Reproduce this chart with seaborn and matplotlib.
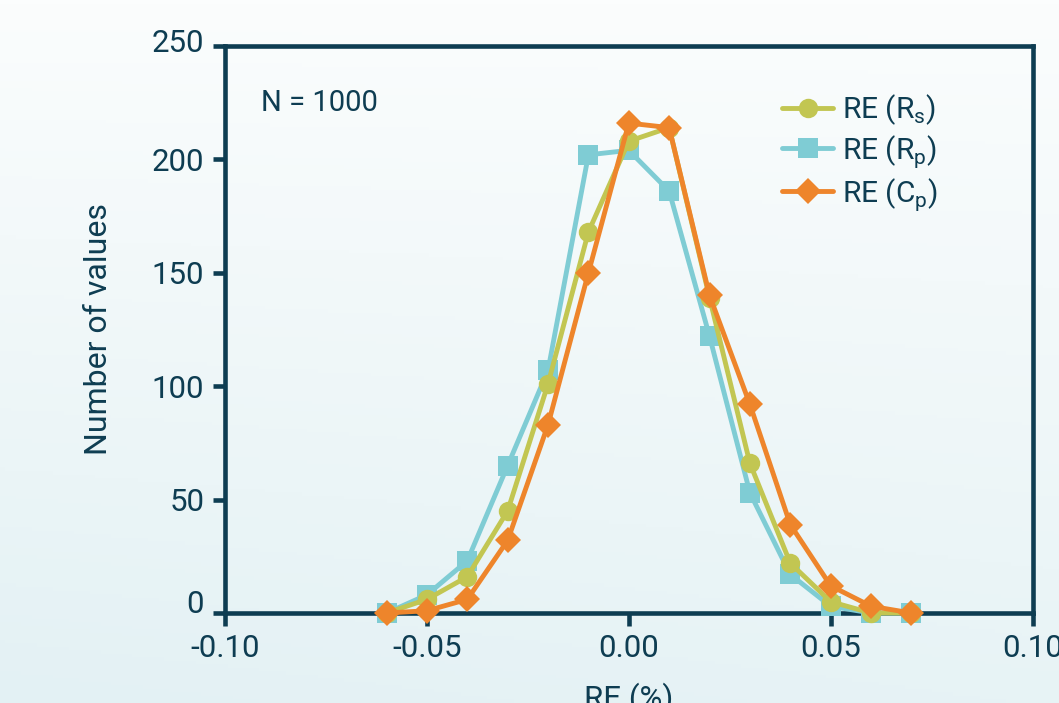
import numpy as np
import pandas as pd
import matplotlib
matplotlib.use("Agg")
import matplotlib.pyplot as plt
import matplotlib.transforms as mtransforms
from matplotlib.colors import LinearSegmentedColormap
import seaborn as sns

re_bins = [-0.06, -0.05, -0.04, -0.03, -0.02, -0.01, 0.00, 0.01, 0.02, 0.03, 0.04, 0.05, 0.06, 0.07]
re_rs = [0, 6, 16, 45, 101, 168, 208, 214, 139, 66, 22, 5, 0, 0]
re_rp = [0, 8, 23, 65, 107, 202, 204, 186, 122, 53, 17, 3, 0, 0]
re_cp = [0, 1, 6, 32, 83, 150, 216, 214, 140, 92, 39, 12, 3, 0]
series_names = ["RE (R$_\\mathregular{s}$)", "RE (R$_\\mathregular{p}$)", "RE (C$_\\mathregular{p}$)"]
xticks = [-0.10, -0.05, 0.00, 0.05, 0.10]
yticks = [0, 50, 100, 150, 200, 250]

sns.set_theme(style="white")
plt.rcParams['font.family'] = ['Roboto', 'DejaVu Sans']
plt.rcParams['axes.unicode_minus'] = False
plt.rcParams['mathtext.fontset'] = 'custom'
plt.rcParams['mathtext.rm'] = 'Roboto'

navy = "#0E3D52"
colors = {"rs": "#C2C652", "rp": "#7FCCD4", "cp": "#EE852B"}

fig = plt.figure(figsize=(10.59, 7.03), dpi=100)
# background gradient
bg = fig.add_axes([0, 0, 1, 1], zorder=-10)
gy, gx = np.mgrid[0:1:200j, 0:1:200j]
grad = np.clip(0.6 * gy + 0.25 * (1 - gx) * gy + 0.1 * gx * gy, 0, 1)
cmap = LinearSegmentedColormap.from_list("bg", ["#FBFDFD", "#E3F1F4"])
bg.imshow(grad, cmap=cmap, aspect="auto", extent=[0, 1, 0, 1], origin="upper")
bg.axis("off")

ax = fig.add_axes([0.2125, 0.128, 0.7625, 0.8066])
ax.set_facecolor("none")

df = pd.DataFrame({"x": re_bins * 3,
                   "y": re_rs + re_rp + re_cp,
                   "s": [series_names[0]] * len(re_bins) + [series_names[1]] * len(re_bins) + [series_names[2]] * len(re_bins)})

specs = [("rp", series_names[1], "s", 15, 2), ("rs", series_names[0], "o", 14, 3), ("cp", series_names[2], "D", 13, 4)]
for key, name, mk, ms, z in specs:
    sns.lineplot(data=df[df.s == name], x="x", y="y", ax=ax, color=colors[key], marker=mk,
                 markersize=ms, markeredgewidth=0, linewidth=3.5, label=name, zorder=z, clip_on=False)

ax.set_xlim(-0.10, 0.10)
ax.set_ylim(0, 250)
ax.set_xticks(xticks)
ax.set_xticklabels([f"{v:.2f}" for v in xticks])
ax.set_yticks(yticks)
for side in ["left", "bottom", "top", "right"]:
    ax.spines[side].set_color(navy)
    ax.spines[side].set_linewidth(3.3)
    ax.spines[side].set_zorder(1)
ax.tick_params(axis="both", which="major", direction="out", length=9, width=3.3, color=navy,
               labelcolor=navy, labelsize=22.5, left=True, bottom=True)
ax.tick_params(axis="x", pad=6)
ax.tick_params(axis="y", pad=6)
# raise the end labels of the y axis slightly (as in the reference)
ylabels = ax.get_yticklabels()
ylabels[0].set_transform(ylabels[0].get_transform() + mtransforms.ScaledTranslation(0, 8 / 72, fig.dpi_scale_trans))
ylabels[-1].set_transform(ylabels[-1].get_transform() + mtransforms.ScaledTranslation(0, 4 / 72, fig.dpi_scale_trans))

ax.set_xlabel("RE (%)", fontsize=22.5, color=navy, labelpad=14)
ax.set_ylabel("Number of values", fontsize=23, color=navy, labelpad=28)
ax.text(0.044, 0.90, "N = 1000", transform=ax.transAxes, fontsize=21, color=navy, va="center")

h, l = ax.get_legend_handles_labels()
order = [1, 0, 2]
leg = ax.legend([h[i] for i in order], [l[i] for i in order], loc="upper right", bbox_to_anchor=(0.905, 0.95),
                frameon=False, fontsize=21.5, handlelength=1.7, handletextpad=0.3, labelspacing=0.2,
                labelcolor=navy, borderaxespad=0.2)

fig.savefig("out.png", dpi=100)
